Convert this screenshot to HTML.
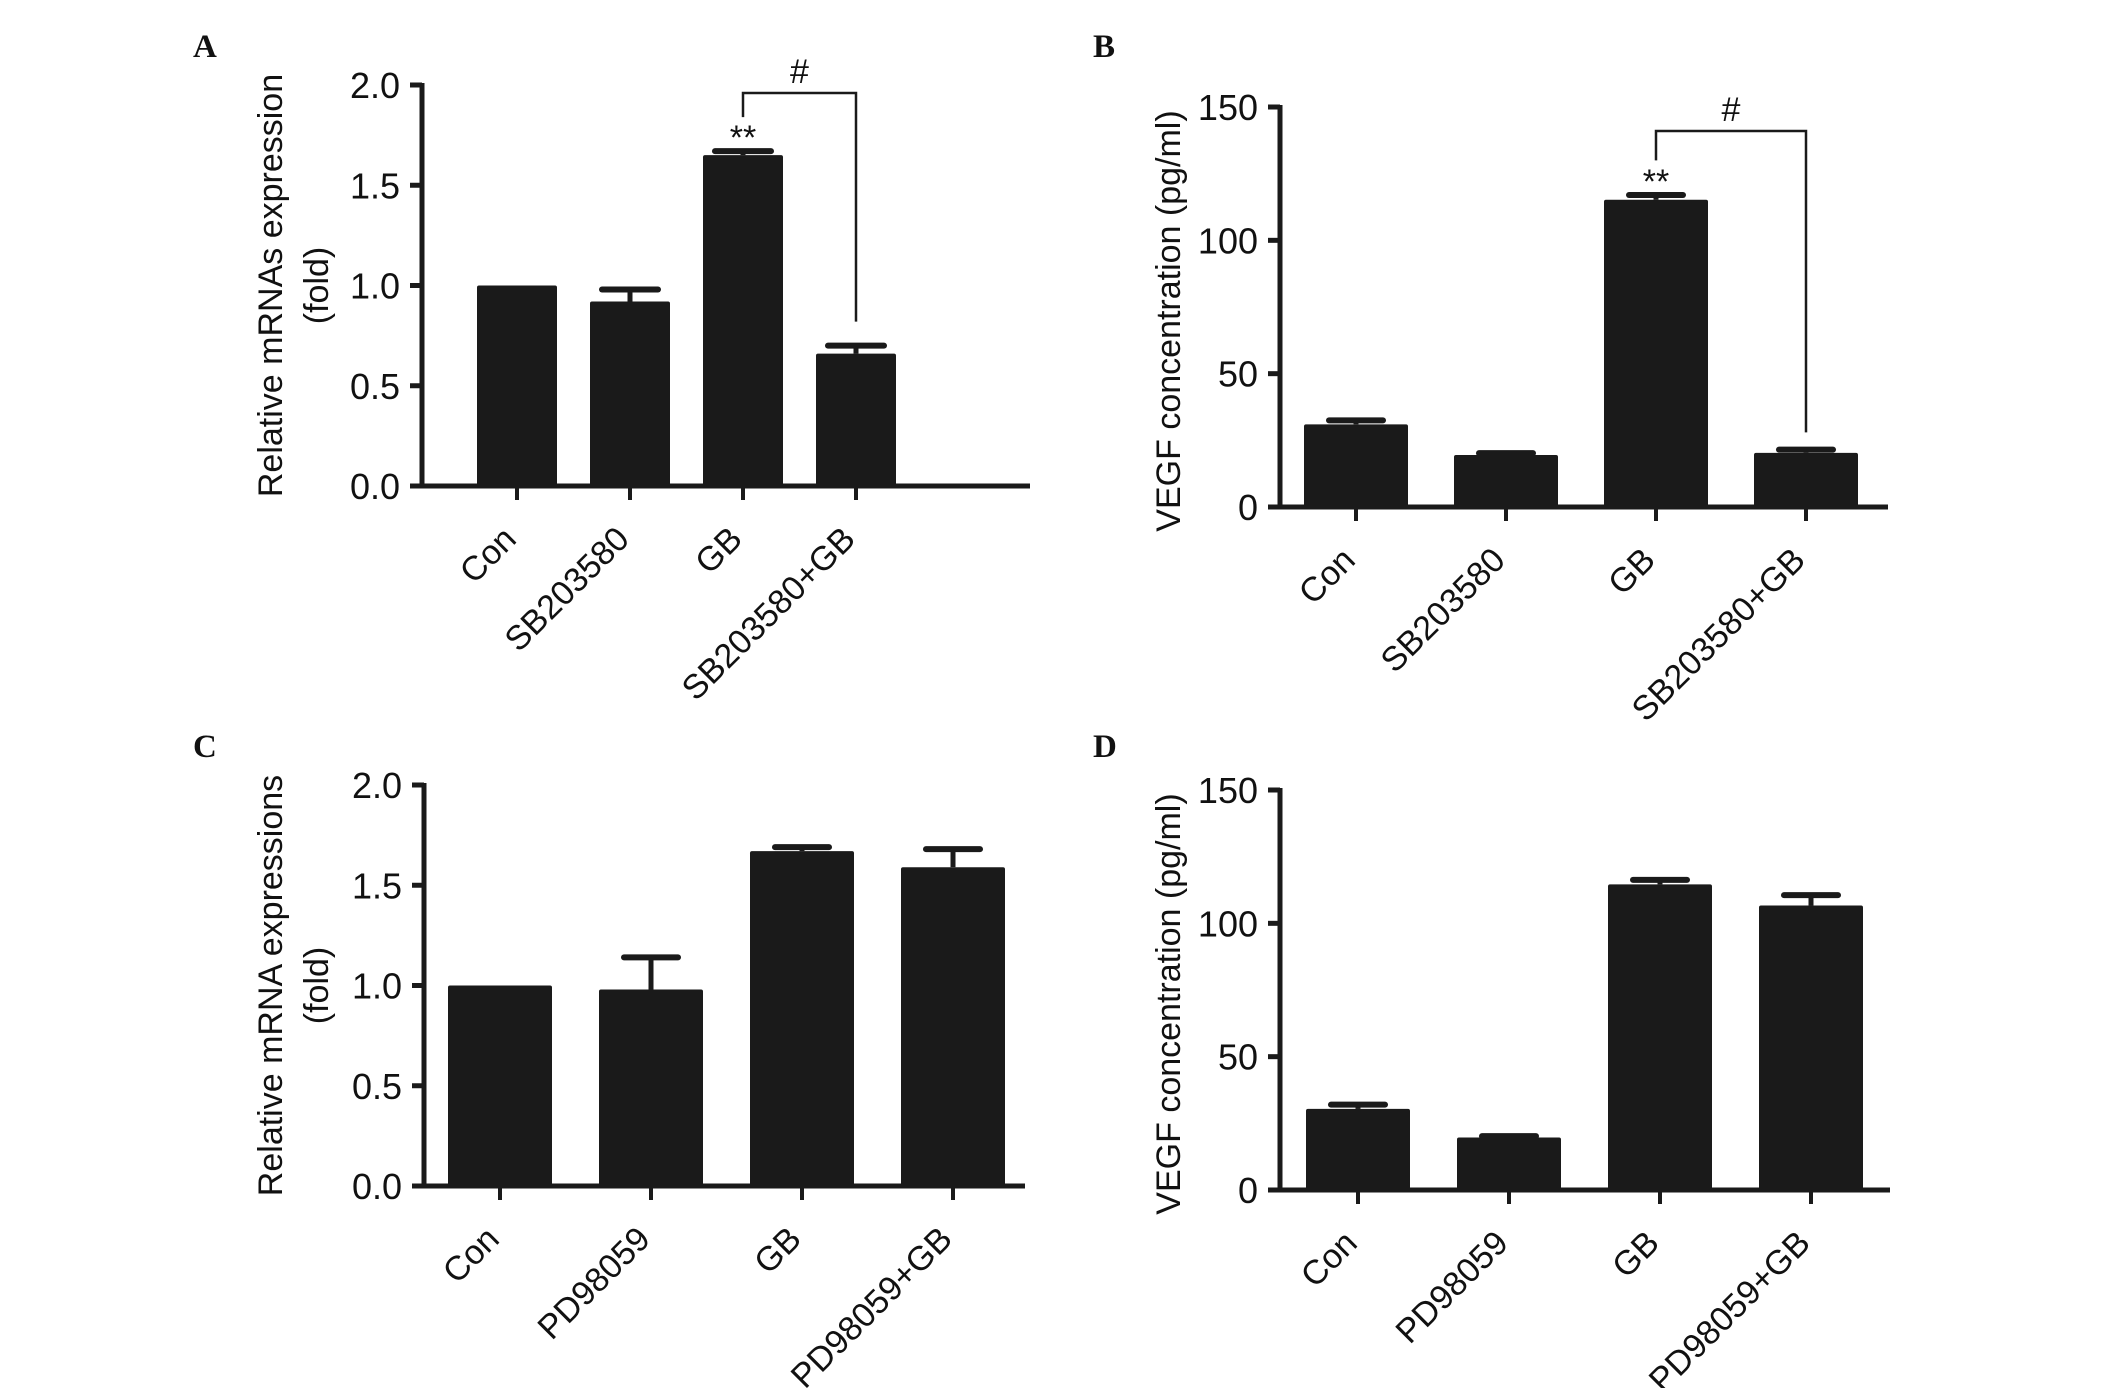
<!DOCTYPE html>
<html><head><meta charset="utf-8"><style>
html,body{margin:0;padding:0;background:#fff}
svg{display:block}
text{font-family:"Liberation Sans",Arial,sans-serif;fill:#111}
.pl{font-family:"Liberation Serif",serif;font-weight:bold;font-size:33px}
</style></head><body>
<svg id="fig" width="2126" height="1388" viewBox="0 0 2126 1388" xmlns="http://www.w3.org/2000/svg"></svg>
<script>
// Panel A data
const catsA = ["Con","SB203580","GB","SB203580+GB"];
const valsA = [1.0, 0.92, 1.65, 0.66];
const errA  = [1.0, 0.98, 1.67, 0.70];
const ticksA = ["0.0","0.5","1.0","1.5","2.0"];
// Panel B data
const catsB = ["Con","SB203580","GB","SB203580+GB"];
const valsB = [31, 19.5, 115.2, 20.3];
const errB  = [32.5, 20.2, 117, 21.5];
const ticksB = ["0","50","100","150"];
// Panel C data
const catsC = ["Con","PD98059","GB","PD98059+GB"];
const valsC = [1.0, 0.98, 1.67, 1.59];
const errC  = [1.0, 1.14, 1.69, 1.68];
const ticksC = ["0.0","0.5","1.0","1.5","2.0"];
// Panel D data
const catsD = ["Con","PD98059","GB","PD98059+GB"];
const valsD = [30.4, 19.7, 114.6, 106.7];
const errD  = [32, 20.2, 116.3, 110.6];
const ticksD = ["0","50","100","150"];

const NS="http://www.w3.org/2000/svg";
const svg=document.getElementById('fig');
function mk(tag,attrs,parent){const e=document.createElementNS(NS,tag);for(const k in attrs)e.setAttribute(k,attrs[k]);(parent||svg).appendChild(e);return e;}

function panel(o){
  const g=mk('g',{});
  
  
  const y=v=>o.y0-(v/o.max)*(o.y0-o.yTop);
  const x=i=>o.c0+i*o.step;
  o.vals.forEach((v,i)=>{
    const bw=o.bw;
    if(o.err[i]>v){
      const ln=mk('line',{x1:x(i),x2:x(i),y1:y(v),y2:y(o.err[i]),stroke:'#1a1a1a','stroke-width':5},g);
      
      
      const cap=mk('line',{x1:x(i)-o.cap/2,x2:x(i)+o.cap/2,y1:y(o.err[i]),y2:y(o.err[i]),stroke:'#1a1a1a','stroke-width':6,'stroke-linecap':'round'},g);
      
      
    }
    const r=mk('rect',{x:x(i)-bw/2,y:y(v),width:bw,height:o.y0-y(v),fill:'#1a1a1a',rx:2},g);
    
    
    const tk=mk('line',{x1:x(i),x2:x(i),y1:o.y0,y2:o.y0+14,stroke:'#1a1a1a','stroke-width':4},g);
    
    
    const t=mk('text',{x:x(i)+1,y:o.y0+55,'font-size':34,'text-anchor':'end',transform:`rotate(-45 ${x(i)+1} ${o.y0+55})`},g);
    t.textContent=o.cats[i];
    
    
  });
  const ya=mk('line',{x1:o.ax,x2:o.ax,y1:o.yTop-2,y2:o.y0+2,stroke:'#1a1a1a','stroke-width':5},g);
  
  
  const xa=mk('line',{x1:o.ax-12,x2:o.xRight,y1:o.y0,y2:o.y0,stroke:'#1a1a1a','stroke-width':5},g);
  
  
  o.ticks.forEach((lab,i)=>{
    const v=i*o.max/(o.ticks.length-1);
    const tl=mk('line',{x1:o.ax-12,x2:o.ax,y1:y(v),y2:y(v),stroke:'#1a1a1a','stroke-width':5},g);
    
    
    const t=mk('text',{x:o.ax-22,y:y(v)+13,'font-size':36,'text-anchor':'end'},g);
    t.textContent=lab;
    
    
  });
  const cy=(o.yTop+o.y0)/2+o.tdy;
  o.title.forEach((line,k)=>{
    const tx=o.tx[k];
    const t=mk('text',{x:tx,y:cy,'font-size':34,'text-anchor':'middle',transform:`rotate(-90 ${tx} ${cy})`},g);
    t.textContent=line;
    
    
  });
  const L=mk('text',{x:o.lx,y:o.ly,class:'pl'},g);
  L.textContent=o.letter;
  
  
  if(o.sig){
    const s=o.sig;
    const p=mk('polyline',{points:`${x(s.a)},${y(s.aEnd)} ${x(s.a)},${s.top} ${x(s.b)},${s.top} ${x(s.b)},${y(s.bEnd)}`,fill:'none',stroke:'#1a1a1a','stroke-width':2.5},g);
    
    
    const h=mk('text',{x:(x(s.a)+x(s.b))/2,y:s.top-10,'font-size':34,'text-anchor':'middle'},g);
    h.textContent='#';
    
    
    const st=mk('text',{x:x(s.a),y:y(o.err[s.a])-2,'font-size':34,'text-anchor':'middle'},g);
    st.textContent='**';
    
    
  }
}

panel({name:'panel-a',letter:'A',lx:193,ly:57,cats:catsA,vals:valsA,err:errA,ticks:ticksA,max:2,
  ax:422,y0:486,yTop:85,c0:517,step:113,bw:80,cap:56,xRight:1030,
  title:['Relative mRNAs expression','(fold)'],tx:[282,328],tdy:0,
  sig:{a:2,b:3,top:93,aEnd:1.84,bEnd:0.82}});
panel({name:'panel-b',letter:'B',lx:1093,ly:57,cats:catsB,vals:valsB,err:errB,ticks:ticksB,max:150,
  ax:1280,y0:507,yTop:107,c0:1356,step:150,bw:104,cap:54,xRight:1888,
  title:['VEGF concentration (pg/ml)'],tx:[1180],tdy:14,
  sig:{a:2,b:3,top:131,aEnd:130,bEnd:28}});
panel({name:'panel-c',letter:'C',lx:193,ly:757,cats:catsC,vals:valsC,err:errC,ticks:ticksC,max:2,
  ax:424,y0:1186,yTop:785,c0:500,step:151,bw:104,cap:54,xRight:1025,
  title:['Relative mRNA expressions','(fold)'],tx:[282,328],tdy:0});
panel({name:'panel-d',letter:'D',lx:1093,ly:757,cats:catsD,vals:valsD,err:errD,ticks:ticksD,max:150,
  ax:1280,y0:1190,yTop:790,c0:1358,step:151,bw:104,cap:54,xRight:1890,
  title:['VEGF concentration (pg/ml)'],tx:[1180],tdy:14});
</script>
</body></html>
